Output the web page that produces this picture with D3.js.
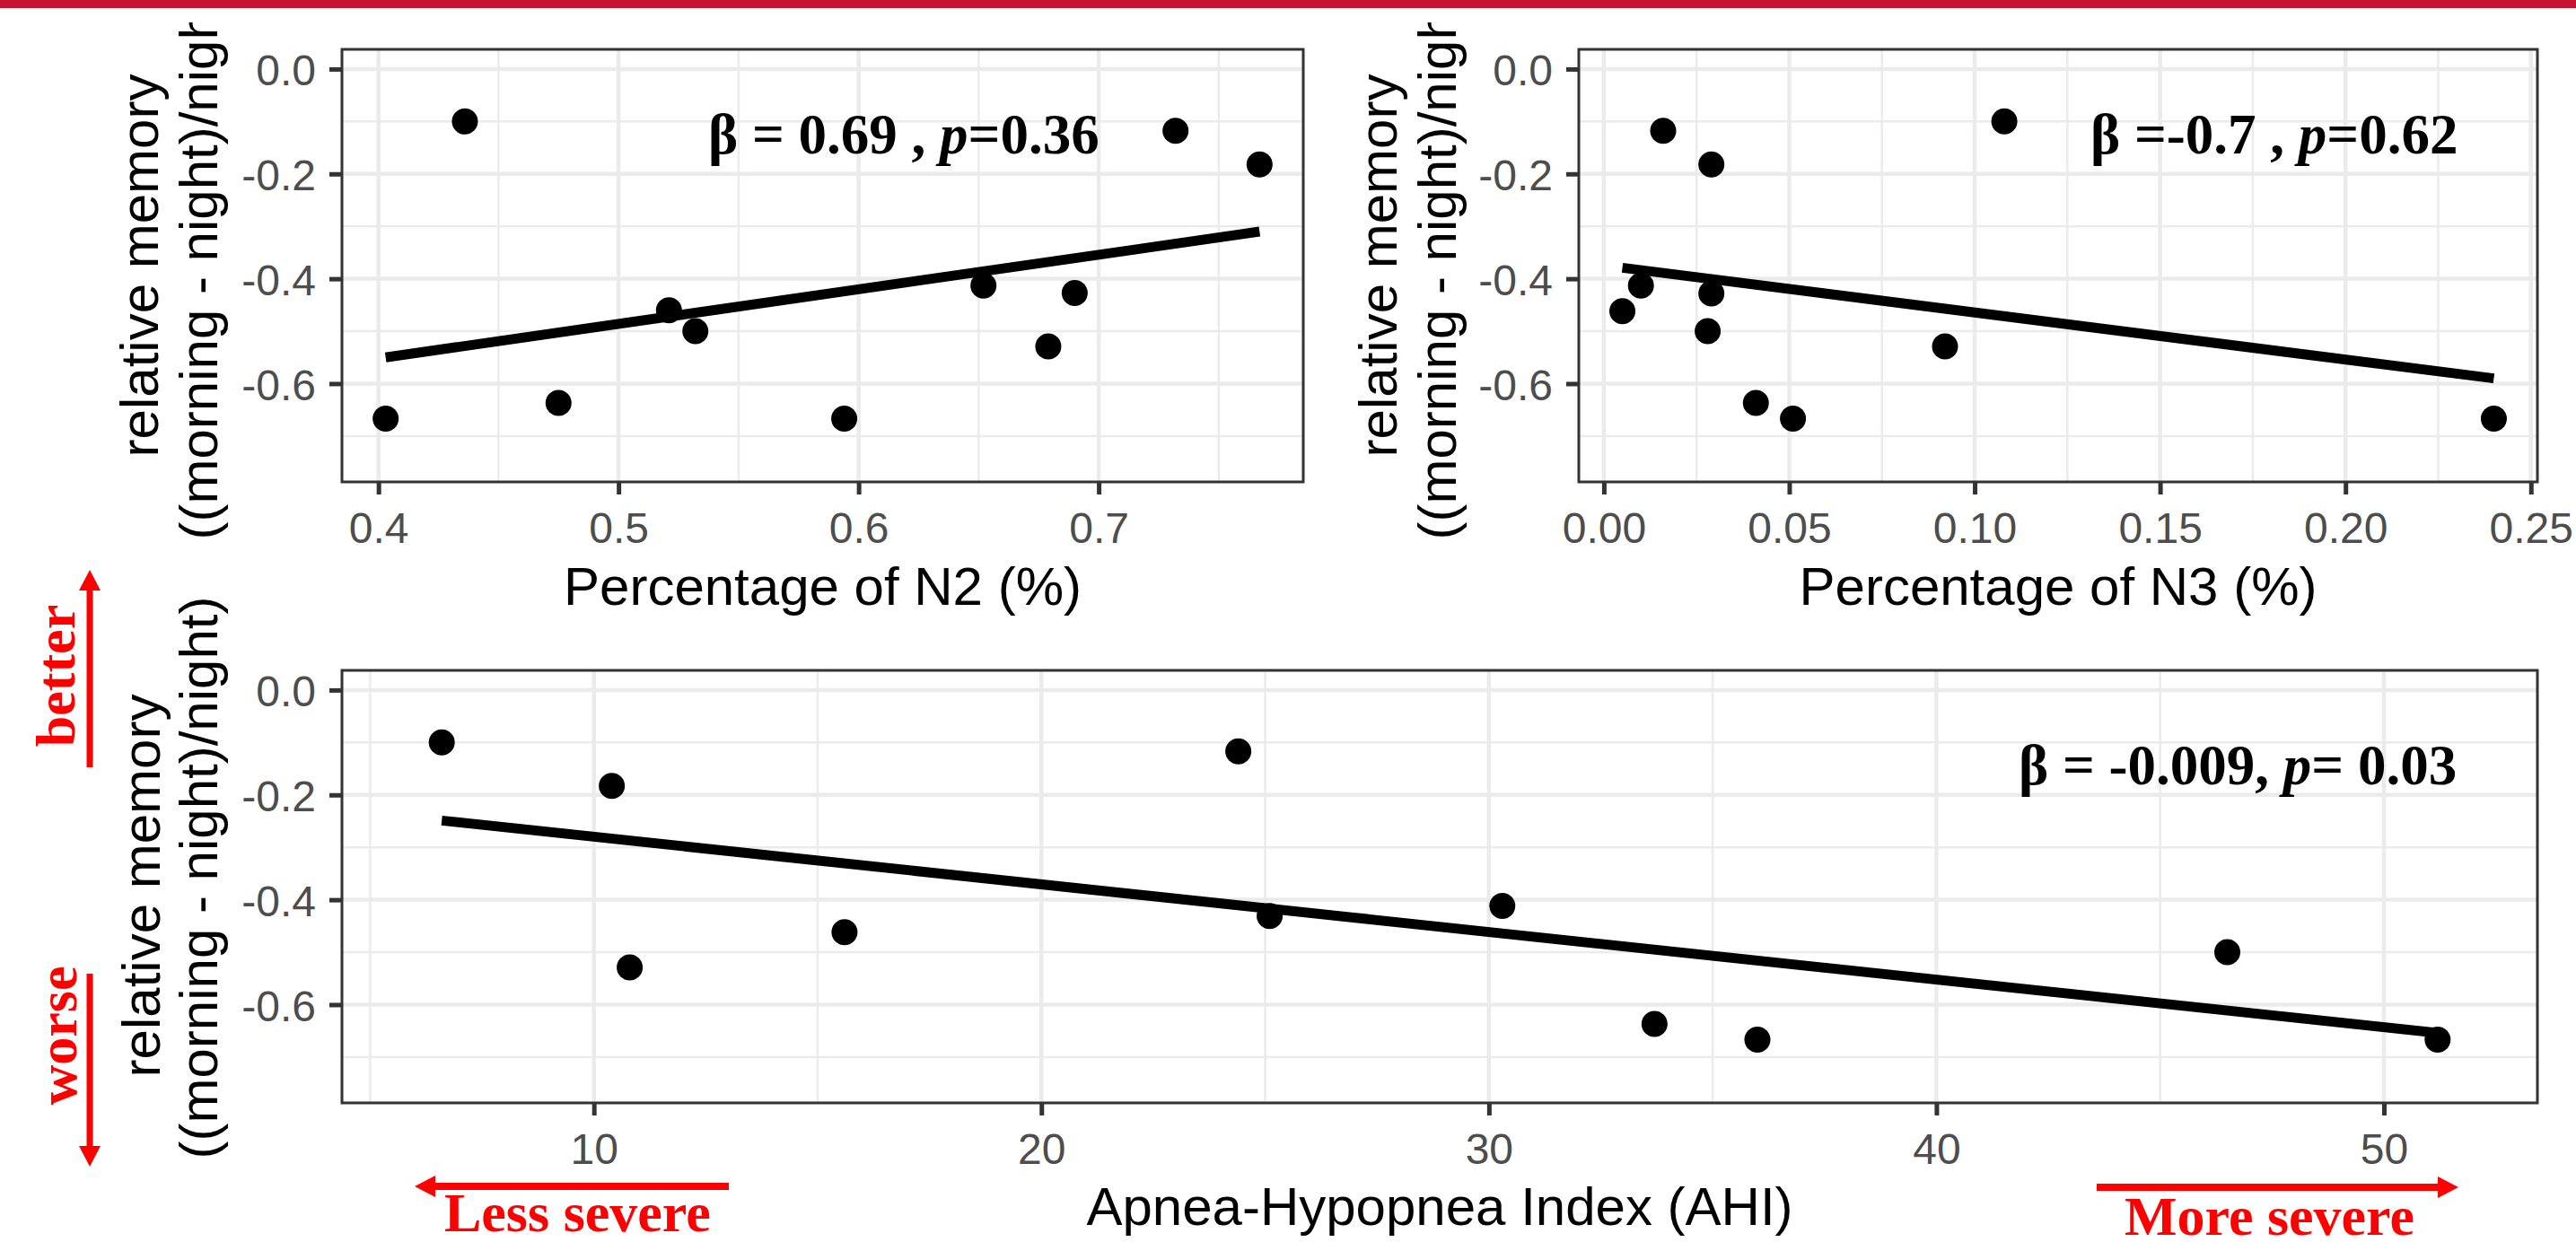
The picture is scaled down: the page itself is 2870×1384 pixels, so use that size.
<!DOCTYPE html>
<html><head><meta charset="utf-8">
<script src="https://cdn.jsdelivr.net/npm/d3@7"></script>
<style>
html,body{margin:0;padding:0;background:#fff;}
svg{display:block;}
</style></head>
<body>
<svg id="chart" width="2870" height="1384"></svg>
<script>
// ---------- data ----------
const yLimits = [-0.75, 0];
const yTicks = [0, -0.2, -0.4, -0.6];
const yMinorTicks = [-0.1, -0.3, -0.5, -0.7];

const n2Percent = [0.403, 0.436, 0.475, 0.521, 0.532, 0.594, 0.652, 0.679, 0.690, 0.732, 0.767];
const memoryN2  = [-0.667, -0.100, -0.637, -0.460, -0.500, -0.667, -0.413, -0.529, -0.427, -0.118, -0.182];
const n2Ticks = [0.4, 0.5, 0.6, 0.7];
const n2Minor = [0.45, 0.55, 0.65, 0.75];
const n2FitX = [0.403, 0.767];
const n2FitY = [-0.550, -0.310];

const n3Percent = [0.005, 0.010, 0.016, 0.029, 0.029, 0.028, 0.041, 0.051, 0.092, 0.108, 0.240];
const memoryN3  = [-0.462, -0.413, -0.118, -0.182, -0.428, -0.500, -0.637, -0.667, -0.529, -0.100, -0.667];
const n3Ticks = [0, 0.05, 0.10, 0.15, 0.20, 0.25];
const n3Minor = [0.025, 0.075, 0.125, 0.175, 0.225];
const n3FitX = [0.005, 0.240];
const n3FitY = [-0.379, -0.590];

const ahiValues = [6.6, 10.4, 10.8, 15.6, 24.4, 25.1, 30.3, 33.7, 36.0, 46.5, 51.2];
const memoryAHI = [-0.100, -0.183, -0.529, -0.462, -0.117, -0.431, -0.412, -0.637, -0.667, -0.500, -0.667];
const ahiTicks = [10, 20, 30, 40, 50];
const ahiMinor = [5, 15, 25, 35, 45];
const ahiFitX = [6.6, 51.2];
const ahiFitY = [-0.249, -0.654];

const yTitleLines = ["relative memory", "((morning - night)/night)"];

// ---------- drawing ----------
const SANS = "'Liberation Sans', Arial, sans-serif";
const SERIF = "'Liberation Serif', 'Times New Roman', serif";
const svg = d3.select("#chart");

function expand(ext) {
  const s = ext[1] - ext[0];
  return [ext[0] - 0.05 * s, ext[1] + 0.05 * s];
}

function drawPanel(o) {
  const g = svg.append("g");
  const x = d3.scaleLinear().domain(expand(d3.extent(o.xData))).range([o.left, o.right]);
  const y = d3.scaleLinear().domain(expand(yLimits)).range([o.bottom, o.top]);

  // grid
  const grid = g.append("g");
  grid.selectAll(".vmin").data(o.xMinor.filter(v => v >= x.domain()[0] && v <= x.domain()[1]))
    .join("line").attr("x1", d => x(d)).attr("x2", d => x(d)).attr("y1", o.top).attr("y2", o.bottom)
    .attr("stroke", "#EBEBEB").attr("stroke-width", 2.5);
  grid.selectAll(".hmin").data(yMinorTicks)
    .join("line").attr("y1", d => y(d)).attr("y2", d => y(d)).attr("x1", o.left).attr("x2", o.right)
    .attr("stroke", "#EBEBEB").attr("stroke-width", 2.5);
  grid.selectAll(".vmaj").data(o.xTicks.filter(v => v >= x.domain()[0] && v <= x.domain()[1]))
    .join("line").attr("x1", d => x(d)).attr("x2", d => x(d)).attr("y1", o.top).attr("y2", o.bottom)
    .attr("stroke", "#EBEBEB").attr("stroke-width", 4.5);
  grid.selectAll(".hmaj").data(yTicks)
    .join("line").attr("y1", d => y(d)).attr("y2", d => y(d)).attr("x1", o.left).attr("x2", o.right)
    .attr("stroke", "#EBEBEB").attr("stroke-width", 4.5);

  // fit line
  const fit = o.fitX.map((v, i) => [v, o.fitY[i]]);
  g.append("path").datum(fit)
    .attr("d", d3.line().x(d => x(d[0])).y(d => y(d[1])))
    .attr("fill", "none").attr("stroke", "#000").attr("stroke-width", 11);

  // points
  g.selectAll(".pt").data(o.xData.map((v, i) => [v, o.yData[i]]))
    .join("circle").attr("cx", d => x(d[0])).attr("cy", d => y(d[1])).attr("r", 14.5).attr("fill", "#000");

  // border
  g.append("rect").attr("x", o.left).attr("y", o.top)
    .attr("width", o.right - o.left).attr("height", o.bottom - o.top)
    .attr("fill", "none").attr("stroke", "#333333").attr("stroke-width", 3);

  // axes
  const ax = g.append("g").attr("transform", `translate(0,${o.bottom})`)
    .call(d3.axisBottom(x).tickValues(o.xTicks).tickFormat(o.xFmt).tickSize(14).tickPadding(20));
  const ay = g.append("g").attr("transform", `translate(${o.left},0)`)
    .call(d3.axisLeft(y).tickValues(yTicks).tickFormat(d => d.toFixed(1)).tickSize(14).tickPadding(15));
  [ax, ay].forEach(a => {
    a.select(".domain").remove();
    a.selectAll(".tick line").attr("stroke", "#333333").attr("stroke-width", 5);
    a.selectAll(".tick text").attr("fill", "#4D4D4D").style("font-family", SANS).style("font-size", "48px");
  });
  ay.selectAll(".tick text").attr("dy", "0.37em");

  // x title
  g.append("text").attr("x", (o.left + o.right) / 2).attr("y", o.xTitleY)
    .attr("text-anchor", "middle").style("font-family", SANS).style("font-size", "60px")
    .attr("fill", "#000").text(o.xTitle);

  // y title (two lines)
  o.yTitle.forEach((t, i) => {
    g.append("text").attr("transform", `translate(${o.yTitleX[i]},${o.yTitleC[i]}) rotate(-90)`)
      .attr("text-anchor", "middle").style("font-family", SANS).style("font-size", "60px")
      .attr("fill", "#000").text(yTitleLines[i]);
  });

  // annotation
  const a = g.append("text").attr("x", o.annX).attr("y", o.annY)
    .style("font-family", SERIF).style("font-size", "63px").style("font-weight", "bold")
    .style("white-space", "pre").attr("fill", "#000");
  a.append("tspan").text(o.ann[0]);
  a.append("tspan").style("font-style", "italic").text("p");
  a.append("tspan").text(o.ann[1]);
}

drawPanel({
  left: 381, right: 1452, top: 55, bottom: 537,
  xData: n2Percent, yData: memoryN2, xTicks: n2Ticks, xMinor: n2Minor,
  xFmt: d => d.toFixed(1), fitX: n2FitX, fitY: n2FitY,
  xTitle: "Percentage of N2 (%)", xTitleY: 674,
  yTitle: yTitleLines, yTitleX: [176, 242], yTitleC: [296, 288],
  ann: ["\u03B2 = 0.69 , ", "=0.36"], annX: 789, annY: 171
});

drawPanel({
  left: 1759, right: 2827, top: 55, bottom: 537,
  xData: n3Percent, yData: memoryN3, xTicks: n3Ticks, xMinor: n3Minor,
  xFmt: d => d.toFixed(2), fitX: n3FitX, fitY: n3FitY,
  xTitle: "Percentage of N3 (%)", xTitleY: 674,
  yTitle: yTitleLines, yTitleX: [1556, 1622], yTitleC: [296, 288],
  ann: ["\u03B2 =-0.7 , ", "=0.62"], annX: 2329, annY: 171
});

drawPanel({
  left: 381, right: 2827, top: 747, bottom: 1229,
  xData: ahiValues, yData: memoryAHI, xTicks: ahiTicks, xMinor: ahiMinor,
  xFmt: d => String(d), fitX: ahiFitX, fitY: ahiFitY,
  xTitle: "Apnea-Hypopnea Index (AHI)", xTitleY: 1365,
  yTitle: yTitleLines, yTitleX: [178, 242], yTitleC: [987, 978],
  ann: ["\u03B2 = -0.009, ", "= 0.03"], annX: 2249, annY: 874
});

// ---------- red annotations ----------
const RED = "#FF0000";
const ann = svg.append("g");
function redText(txt, x, y, rot, anchor) {
  ann.append("text").attr("transform", `translate(${x},${y})` + (rot ? ` rotate(${rot})` : ""))
    .attr("text-anchor", anchor).style("font-family", SERIF).style("font-size", "62px")
    .style("font-weight", "bold").attr("fill", RED).text(txt);
}
redText("better", 83, 753, -90, "middle");
redText("worse", 85, 1154, -90, "middle");
redText("Less severe", 495, 1372, 0, "start");
redText("More severe", 2367, 1376, 0, "start");

// arrows
function arrow(x1, y1, x2, y2, w, head, hw) {
  const dx = x2 - x1, dy = y2 - y1, L = Math.hypot(dx, dy), ux = dx / L, uy = dy / L;
  const bx = x2 - ux * head, by = y2 - uy * head;
  ann.append("line").attr("x1", x1).attr("y1", y1).attr("x2", bx).attr("y2", by)
    .attr("stroke", RED).attr("stroke-width", w);
  ann.append("path").attr("d", `M${x2},${y2} L${bx - uy * hw},${by + ux * hw} L${bx + uy * hw},${by - ux * hw} Z`)
    .attr("fill", RED);
}
arrow(100, 855, 100, 635, 7, 23, 12);
arrow(100, 1085, 100, 1300, 7, 23, 12);
arrow(812, 1322, 462, 1322, 8, 23, 12);
arrow(2336, 1323, 2739, 1323, 8, 23, 12);

// clipped top strip + red bar
svg.append("rect").attr("x", 0).attr("y", 0).attr("width", 2870).attr("height", 25).attr("fill", "#fff");
svg.append("rect").attr("x", 0).attr("y", 0).attr("width", 2870).attr("height", 9).attr("fill", "#C41230");
</script>
</body></html>
